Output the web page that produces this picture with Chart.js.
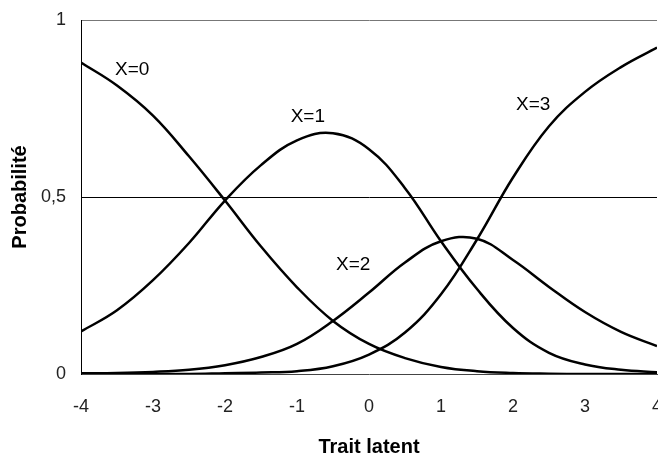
<!DOCTYPE html>
<html>
<head>
<meta charset="utf-8">
<script src="https://cdn.jsdelivr.net/npm/chart.js@4.4.1/dist/chart.umd.min.js"></script>
<style>
    html, body { margin: 0; padding: 0; background: #fff; overflow: hidden; }
    #wrap { width: 658px; height: 459px; position: relative; }
</style>
</head>
<body>
<div id="wrap"><canvas id="iccChart"></canvas></div>
<script>

// latent trait values (x) and category probabilities
const theta = [-4, -3.5, -3, -2.5, -2, -1.5, -1, -0.5, 0, 0.5, 1, 1.5, 2, 2.5, 3, 3.5, 4];

const probX0 = [0.88, 0.815, 0.73, 0.615, 0.49, 0.36, 0.245, 0.15, 0.085, 0.045, 0.02, 0.008, 0.003, 0.001, 0, 0, 0];
const probX1 = [0.12, 0.18, 0.265, 0.37, 0.49, 0.59, 0.66, 0.68, 0.635, 0.525, 0.375, 0.24, 0.13, 0.06, 0.027, 0.012, 0.005];
const probX2 = [0.002, 0.003, 0.006, 0.012, 0.025, 0.048, 0.085, 0.15, 0.23, 0.315, 0.375, 0.382, 0.322, 0.246, 0.175, 0.119, 0.079];
const probX3 = [0, 0, 0, 0, 0.002, 0.004, 0.008, 0.022, 0.055, 0.117, 0.225, 0.38, 0.555, 0.70, 0.797, 0.867, 0.922];

const seriesNames = ["X=0", "X=1", "X=2", "X=3"];

// where each curve name sits, in data units
const labelTheta = [-3.29, -0.85, -0.22, 2.28];
const labelProb = [0.86, 0.726, 0.308, 0.76];

const xTicks = [-4, -3, -2, -1, 0, 1, 2, 3, 4];
const yTicks = [0, 0.5, 1];
const yTickLabels = ["0", "0,5", "1"];

const xTitle = "Trait latent";
const yTitle = "Probabilité";


function toPoints(values) {
    return values.map((v, i) => ({ x: theta[i], y: v }));
}

/*
=====================================
CURVE LABELS
=====================================
*/

const curveLabels = {
    id: "curveLabels",
    afterDatasetsDraw(chart) {
        const { ctx, scales } = chart;
        ctx.save();
        ctx.font = "19px 'Liberation Sans', Arial, sans-serif";
        ctx.fillStyle = "#000";
        ctx.textAlign = "center";
        ctx.textBaseline = "middle";
        seriesNames.forEach((name, i) => {
            ctx.fillText(
                name,
                scales.x.getPixelForValue(labelTheta[i]),
                scales.y.getPixelForValue(labelProb[i])
            );
        });
        ctx.restore();
    }
};

const curves = [probX0, probX1, probX2, probX3];

new Chart(document.getElementById("iccChart"), {
    type: "line",
    data: {
        datasets: curves.map((values, i) => ({
            label: seriesNames[i],
            data: toPoints(values),
            borderColor: "#000",
            borderWidth: 2.5,
            pointRadius: 0,
            tension: 0.4,
            fill: false
        }))
    },
    options: {
        responsive: true,
        maintainAspectRatio: false,
        animation: false,
        layout: {
            padding: { top: 20, right: 1, left: 0, bottom: 0 }
        },
        plugins: {
            legend: { display: false },
            title: { display: false },
            tooltip: { enabled: false }
        },
        scales: {
            x: {
                type: "linear",
                min: -4,
                max: 4,
                afterBuildTicks: scale => {
                    scale.ticks = xTicks.map(v => ({ value: v }));
                },
                afterFit: scale => {
                    scale.paddingLeft = 0;
                    scale.paddingRight = 0;
                    scale.height = 85;
                },
                grid: { display: false, drawTicks: false },
                border: { display: true, color: "#444", width: 1 },
                ticks: {
                    color: "#222",
                    padding: 22,
                    maxRotation: 0,
                    font: { family: "'Liberation Sans', Arial, sans-serif", size: 18 }
                },
                title: {
                    display: true,
                    text: xTitle,
                    color: "#000",
                    padding: { top: -3, bottom: 0 },
                    font: { family: "'Liberation Sans', Arial, sans-serif", size: 20, weight: "bold" }
                }
            },
            y: {
                min: 0,
                max: 1,
                afterBuildTicks: scale => {
                    scale.ticks = yTicks.map(v => ({ value: v }));
                },
                afterFit: scale => {
                    scale.width = 81;
                    scale.paddingTop = 0;
                    scale.paddingBottom = 0;
                },
                grid: {
                    drawTicks: false,
                    lineWidth: 1,
                    color: ctx => {
                        if (ctx.tick.value === 0.5) return "#000";
                        if (ctx.tick.value === 1) return "#777";
                        return "rgba(0,0,0,0)";
                    }
                },
                border: { display: true, color: "#000", width: 1 },
                ticks: {
                    color: "#222",
                    padding: 15,
                    font: { family: "'Liberation Sans', Arial, sans-serif", size: 18 },
                    callback: value => yTickLabels[yTicks.indexOf(value)]
                },
                title: {
                    display: true,
                    text: yTitle,
                    color: "#000",
                    padding: { top: 8, bottom: 0 },
                    font: { family: "'Liberation Sans', Arial, sans-serif", size: 20, weight: "bold" }
                }
            }
        }
    },
    plugins: [curveLabels]
});
</script>
</body>
</html>
